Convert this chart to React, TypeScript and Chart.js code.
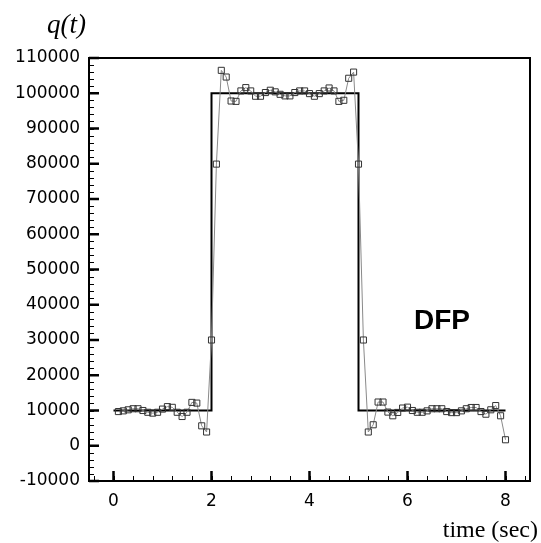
import React, { useEffect, useRef } from "react";
import { Chart, registerables } from "chart.js";

Chart.register(...registerables);

// Numerical (DFP) solution samples, time in sec
const numTimes: number[] = [
  0.1, 0.2, 0.3, 0.4, 0.5, 0.6, 0.7, 0.8, 0.9, 1.0,
  1.1, 1.2, 1.3, 1.4, 1.5, 1.6, 1.7, 1.8, 1.9, 2.0,
  2.1, 2.2, 2.3, 2.4, 2.5, 2.6, 2.7, 2.8, 2.9, 3.0,
  3.1, 3.2, 3.3, 3.4, 3.5, 3.6, 3.7, 3.8, 3.9, 4.0,
  4.1, 4.2, 4.3, 4.4, 4.5, 4.6, 4.7, 4.8, 4.9, 5.0,
  5.1, 5.2, 5.3, 5.4, 5.5, 5.6, 5.7, 5.8, 5.9, 6.0,
  6.1, 6.2, 6.3, 6.4, 6.5, 6.6, 6.7, 6.8, 6.9, 7.0,
  7.1, 7.2, 7.3, 7.4, 7.5, 7.6, 7.7, 7.8, 7.9, 8.0,
];
const numValues: number[] = [
  9700, 9900, 10200, 10500, 10500, 10000, 9500, 9250, 9500, 10400,
  11100, 10900, 9500, 8300, 9500, 12300, 12100, 5650, 3900, 30000,
  79900, 106500, 104600, 97800, 97700, 100660, 101600, 100660, 99150, 99150,
  100200, 100850, 100400, 99700, 99250, 99250, 100200, 100660, 100660, 99900,
  99150, 99900, 100660, 101500, 100660, 97700, 98000, 104250, 106000, 79900,
  30000, 3900, 5950, 12400, 12400, 9550, 8500, 9450, 10700, 10950,
  10000, 9500, 9500, 9900, 10500, 10500, 10500, 9700, 9400, 9400,
  9900, 10500, 10850, 10850, 9700, 8950, 10200, 11400, 8500, 1700,
];

// Exact solution (square pulse)
const exactTimes: number[] = [0, 2, 2, 5, 5, 8];
const exactValues: number[] = [10000, 10000, 100000, 100000, 10000, 10000];

const xTicks: number[] = [0, 2, 4, 6, 8];
const yTicks: number[] = [
  -10000, 0, 10000, 20000, 30000, 40000, 50000, 60000, 70000, 80000, 90000,
  100000, 110000,
];
const xMinorStep = 0.4;
const yMinorStep = 2000;

const yLabel = "q(t)";
const xLabel = "time (sec)";
const methodLabel = "DFP";

const frameAndTicks = {
  id: "frameAndTicks",
  afterDraw(chart: any) {
    const { ctx, chartArea } = chart;
    const xs = chart.scales.x;
    const ys = chart.scales.y;
    const { left, right, top, bottom } = chartArea;
    ctx.save();
    ctx.strokeStyle = "#000";
    // minor ticks
    ctx.lineWidth = 1;
    ctx.beginPath();
    for (let v = -0.4; v <= 8.45; v += xMinorStep) {
      const px = Math.round(xs.getPixelForValue(v)) + 0.5;
      if (px <= left + 1 || px >= right - 1) continue;
      ctx.moveTo(px, bottom);
      ctx.lineTo(px, bottom - 5);
    }
    for (let v = -10000; v <= 110000; v += yMinorStep) {
      const py = Math.round(ys.getPixelForValue(v)) + 0.5;
      ctx.moveTo(left, py);
      ctx.lineTo(left + 5, py);
    }
    ctx.stroke();
    // major ticks
    ctx.lineWidth = 2.5;
    ctx.beginPath();
    xTicks.forEach((v) => {
      const px = xs.getPixelForValue(v);
      ctx.moveTo(px, bottom);
      ctx.lineTo(px, bottom - 10);
    });
    yTicks.forEach((v) => {
      const py = ys.getPixelForValue(v);
      ctx.moveTo(left, py);
      ctx.lineTo(left + 10, py);
    });
    ctx.stroke();
    // frame
    ctx.lineWidth = 2;
    ctx.strokeRect(left, top, right - left, bottom - top);
    // texts
    ctx.fillStyle = "#000";
    ctx.textBaseline = "alphabetic";
    ctx.textAlign = "left";
    ctx.font = "italic 27px 'Liberation Serif', serif";
    ctx.fillText(yLabel, 47, 33);
    ctx.textAlign = "right";
    ctx.font = "24px 'Liberation Serif', serif";
    ctx.fillText(xLabel, 538, 537);
    ctx.textAlign = "center";
    ctx.font = "bold 28px 'Liberation Sans', sans-serif";
    ctx.fillText(methodLabel, 442, 329);
    ctx.restore();
  },
};

export default function App() {
  const ref = useRef<HTMLCanvasElement | null>(null);
  useEffect(() => {
    if (!ref.current) return;
    const chart = new Chart(ref.current, {
      type: "line",
      data: {
        datasets: [
          {
            label: "exact",
            data: exactTimes.map((t, i) => ({ x: t, y: exactValues[i] })),
            borderColor: "#000",
            borderWidth: 2,
            pointRadius: 0,
            fill: false,
            tension: 0,
            order: 2,
          },
          {
            label: "DFP",
            data: numTimes.map((t, i) => ({ x: t, y: numValues[i] })),
            borderColor: "#8a8a8a",
            borderWidth: 1,
            pointStyle: "rect",
            pointRadius: 4.3,
            pointBorderWidth: 1,
            pointBorderColor: "#333",
            pointBackgroundColor: "rgba(255,255,255,0)",
            fill: false,
            tension: 0,
            order: 1,
          },
        ],
      },
      options: {
        responsive: false,
        animation: false,
        layout: { padding: { top: 58, right: 11, left: 0, bottom: 0 } },
        plugins: {
          legend: { display: false },
          tooltip: { enabled: false },
          title: { display: false },
        },
        scales: {
          x: {
            type: "linear",
            min: -0.5,
            max: 8.5,
            grid: { display: false, drawTicks: false },
            border: { display: false },
            afterBuildTicks: (s: any) => {
              s.ticks = xTicks.map((v) => ({ value: v }));
            },
            afterFit: (s: any) => {
              s.height = 62;
            },
            ticks: {
              padding: 10,
              color: "#000",
              font: { family: "'DejaVu Sans', sans-serif", size: 17 },
              maxRotation: 0,
            },
          },
          y: {
            type: "linear",
            min: -10000,
            max: 110000,
            grid: { display: false, drawTicks: false },
            border: { display: false },
            afterBuildTicks: (s: any) => {
              s.ticks = yTicks.map((v) => ({ value: v }));
            },
            afterFit: (s: any) => {
              s.width = 89;
            },
            ticks: {
              padding: 9,
              color: "#000",
              font: { family: "'DejaVu Sans', sans-serif", size: 17 },
              callback: (v: any) => String(v),
            },
          },
        },
      },
      plugins: [frameAndTicks],
    });
    return () => chart.destroy();
  }, []);
  return (
    <div style={{ position: "absolute", left: 0, top: 0, width: 541, height: 543, background: "#fff" }}>
      <canvas ref={ref} width={541} height={543} style={{ display: "block" }} />
    </div>
  );
}
